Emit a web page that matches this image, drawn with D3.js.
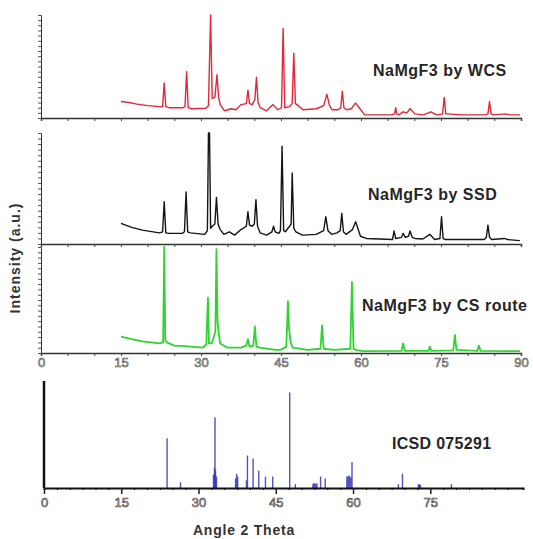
<!doctype html>
<html>
<head>
<meta charset="UTF-8" />
<script src="https://d3js.org/d3.v7.min.js"></script>
<style>
  body { margin: 0; background: #fff; }
  svg { display: block; font-family: "Liberation Sans", Arial, sans-serif; }
</style>
</head>
<body>
<svg id="chart" width="533" height="539"></svg>
<script>

const wcsTrace = [[15.0,16],[16.5,15],[18,13.5],[20,12],[22.2,11],[22.8,11],[23.1,34],[23.4,11],[24,10],[26.6,10],[27.0,11],[27.3,45],[27.6,10],[28.2,9],[30.9,9.5],[31.4,12],[31.8,100],[32.1,19],[32.6,20],[33.0,42],[33.3,20],[33.6,13],[34.4,7],[35.7,9],[36.6,8],[37.5,13],[38.5,14],[38.8,27],[39.1,14],[39.6,13],[40.1,18],[40.4,39.5],[40.7,15],[41.1,10],[42.3,7],[43.5,13],[44.4,8],[45.1,10],[45.4,87],[45.7,10],[46.6,11],[47.1,14],[47.4,63],[47.7,14],[48.0,13],[49.1,8],[51.6,9],[53.0,12],[53.6,23],[54.1,12],[54.6,8],[55.7,8],[56.2,10],[56.5,26],[56.8,10],[57.3,8],[58.2,9],[58.6,12],[59.0,14.5],[59.8,9],[60.7,3],[65.7,3],[66.3,4],[66.5,10],[66.7,4],[67.1,3],[67.9,6],[68.6,5],[69.2,9],[70.1,4],[71.7,3],[73.1,6],[74.2,3],[75.3,4],[75.6,20],[75.9,4],[76.2,4],[79,3],[83.3,3],[83.8,4],[84.1,16],[84.4,4],[84.8,3],[87.0,4],[88,3],[89.8,3]];

const ssdTrace = [[15.0,18.6],[17,15],[19,12.5],[22.2,10],[22.8,11],[23.1,38],[23.4,10],[24,9.6],[26.5,9.6],[26.9,11],[27.2,47],[27.5,11],[28,10],[30.7,8.7],[31.2,12],[31.4,100],[31.6,100],[31.8,14],[32.1,16],[32.6,18],[32.9,42],[33.2,18],[33.6,13],[34.3,8.7],[35.3,11],[36.3,8],[37.5,13],[38.5,16],[38.8,29],[39.1,17],[39.6,16],[40.0,18],[40.3,40],[40.6,16],[41.1,10],[42.3,8],[43.3,11],[43.6,16],[43.9,11],[44.6,9.6],[44.9,12],[45.2,88],[45.5,12],[45.8,11],[46.6,16],[46.9,18],[47.1,64],[47.4,14],[47.8,11],[49,8],[51.6,8.7],[53.0,12],[53.4,24.6],[53.8,12],[54.5,8.7],[55.5,10],[56.1,12],[56.4,27.6],[56.7,11],[57.2,8.7],[58.4,13],[59.0,20],[59.9,7],[61,5],[65.9,4],[66.2,11.7],[66.5,5],[67.6,6],[67.9,9.6],[68.3,6],[68.9,7],[69.2,11.7],[69.6,6],[70.1,5],[71.6,4.5],[72.9,8.7],[73.8,4],[74.8,5],[75.1,24.6],[75.4,5],[75.8,4],[80,4],[83.1,4],[83.5,6],[83.8,17],[84.1,6],[84.5,4],[86.9,5],[87.5,4],[89.8,3]];

const csTrace = [[15.0,15.4],[17,13],[19,11],[22.2,9],[22.9,10],[23.1,100],[23.3,12],[23.6,10],[25,7],[27,6.5],[30.3,5],[31.0,8],[31.3,52.5],[31.5,9],[32.0,9],[32.7,20],[32.9,98],[33.1,30],[33.3,19.5],[33.6,9],[35,5],[37.5,5],[38.5,7],[38.8,13],[39.1,6],[39.8,7],[40.1,25],[40.4,6],[41,5],[44,3],[45,3],[46.0,6],[46.3,49],[46.5,24],[46.8,10],[47.2,5],[50,3],[52.4,4],[52.7,26],[53.0,4],[55,3],[58.0,4],[58.3,67],[58.6,4],[59.3,2.5],[60.5,1.7],[67.6,2],[67.9,9],[68.2,2],[72.6,2],[72.9,6],[73.2,2],[77.3,2.5],[77.6,17],[77.9,3],[81.8,2],[82.1,7],[82.4,2],[89.8,1.7]];

// ICSD 075291 reference reflections
const icsdAngles  = [23.9, 26.5, 32.9, 33.1, 33.2, 33.3, 33.5, 37.2, 37.4, 37.6, 39.3, 39.5, 40.6, 41.7, 43.0, 44.4, 47.7, 48.8, 52.2, 52.4, 52.6, 52.8, 53.0, 53.7, 54.6, 58.8, 59.0, 59.2, 59.4, 59.6, 59.8, 68.8, 69.6, 72.7, 72.9, 73.1, 79.1];
const icsdHeights = [52, 6, 14, 21, 74, 18, 12, 10, 15, 12, 8, 34, 31, 18, 12, 12, 100, 4, 4, 5, 5, 4, 5, 12, 10, 12, 12, 13, 12, 11, 27, 4, 15, 4, 4, 3, 4];

const sampleLabels = ["NaMgF3 by WCS", "NaMgF3 by SSD", "NaMgF3 by CS route"];
const sampleColors = ["#e3263a", "#151515", "#2fd42f"];
const xTickLabels = [0, 15, 30, 45, 60, 75, 90];
const icsdTickLabels = [0, 15, 30, 45, 60, 75];

const svg = d3.select("#chart");

// stacked measured patterns share one x scale
const x = d3.scaleLinear().domain([0, 90]).range([41, 521]);
const panels = [{ top: 15, bottom: 118, labelY: 76 }, { top: 133, bottom: 244, labelY: 200 }, { top: 247, bottom: 353, labelY: 311 }];
const traces = [wcsTrace, ssdTrace, csTrace];

panels.forEach(function (p, i) {
  const y = d3.scaleLinear().domain([0, 100]).range([p.bottom, p.top]);

  const gy = svg.append("g")
    .attr("transform", "translate(" + x(0) + ",0)")
    .call(d3.axisLeft(y).tickValues(d3.range(0, 101, 5)).tickSize(3).tickFormat(""));
  gy.select(".domain").attr("stroke", "#333");
  gy.selectAll(".tick line").attr("stroke", "#555");

  const gx = svg.append("g")
    .attr("transform", "translate(0," + p.bottom + ")")
    .call(d3.axisBottom(x).tickValues(d3.range(0, 91, 5)).tickSize(3).tickPadding(2)
      .tickFormat(function (d) { return (i === 2 && xTickLabels.indexOf(d) >= 0) ? d : ""; }));
  gx.select(".domain").attr("stroke", "#333").attr("stroke-width", 1.5);
  gx.selectAll(".tick line").attr("stroke", "#444");
  gx.selectAll(".tick text")
    .attr("font-size", 13).attr("fill", "#c8c8c8").attr("stroke", "#555").attr("stroke-width", 0.6)
    .attr("font-family", "Liberation Sans, Arial, sans-serif");

  svg.append("path")
    .datum(traces[i])
    .attr("fill", "none")
    .attr("stroke", sampleColors[i])
    .attr("stroke-width", i === 2 ? 1.8 : 1.4)
    .attr("stroke-linejoin", "round")
    .attr("d", d3.line().x(function (d) { return x(d[0]); }).y(function (d) { return y(d[1]); }));

  svg.append("text")
    .attr("x", i === 2 ? 362 : (i === 0 ? 373 : 368))
    .attr("y", p.labelY)
    .attr("font-size", 16).attr("font-weight", "bold").attr("letter-spacing", 0.5)
    .attr("fill", "#262626")
    .text(sampleLabels[i]);
});

svg.append("text")
  .attr("transform", "translate(20,258) rotate(-90)")
  .attr("text-anchor", "middle")
  .attr("font-size", 14).attr("font-weight", "bold").attr("letter-spacing", 1)
  .attr("fill", "#333")
  .text("Intensity (a.u.)");

// reference stick pattern
const xB = d3.scaleLinear().domain([0, 93]).range([44, 523]);
const yB = d3.scaleLinear().domain([0, 112]).range([488, 381]);

svg.append("g").selectAll("line")
  .data(icsdAngles)
  .enter().append("line")
  .attr("x1", function (d) { return xB(d); })
  .attr("x2", function (d) { return xB(d); })
  .attr("y1", yB(0))
  .attr("y2", function (d, i) { return yB(icsdHeights[i]); })
  .attr("stroke", "#3434b4")
  .attr("stroke-opacity", 0.85)
  .attr("stroke-width", 1.4);

const gxB = svg.append("g")
  .attr("transform", "translate(0," + yB(0) + ")")
  .call(d3.axisBottom(xB).tickValues(d3.range(0, 91, 2.5)).tickSize(2).tickFormat(""));
gxB.select(".domain").attr("stroke", "#111").attr("stroke-width", 2);

const gxB2 = svg.append("g")
  .attr("transform", "translate(0," + yB(0) + ")")
  .call(d3.axisBottom(xB).tickValues(icsdTickLabels).tickSize(6).tickPadding(4));
gxB2.select(".domain").remove();
gxB2.selectAll(".tick line").attr("stroke", "#222").attr("stroke-width", 1.5);
gxB2.selectAll(".tick text")
  .attr("font-size", 13).attr("fill", "#c8c8c8").attr("stroke", "#444").attr("stroke-width", 0.6)
  .attr("font-family", "Liberation Sans, Arial, sans-serif");

svg.append("line")
  .attr("x1", xB(0)).attr("x2", xB(0))
  .attr("y1", yB(0)).attr("y2", yB(112))
  .attr("stroke", "#111").attr("stroke-width", 2.5);

svg.append("text")
  .attr("x", 392).attr("y", 449)
  .attr("font-size", 16).attr("font-weight", "bold").attr("letter-spacing", 0.3)
  .attr("fill", "#262626")
  .text("ICSD 075291");

svg.append("text")
  .attr("x", 244).attr("y", 535)
  .attr("text-anchor", "middle")
  .attr("font-size", 14).attr("font-weight", "bold").attr("letter-spacing", 0.8)
  .attr("fill", "#333")
  .text("Angle 2 Theta");

</script>
</body>
</html>
